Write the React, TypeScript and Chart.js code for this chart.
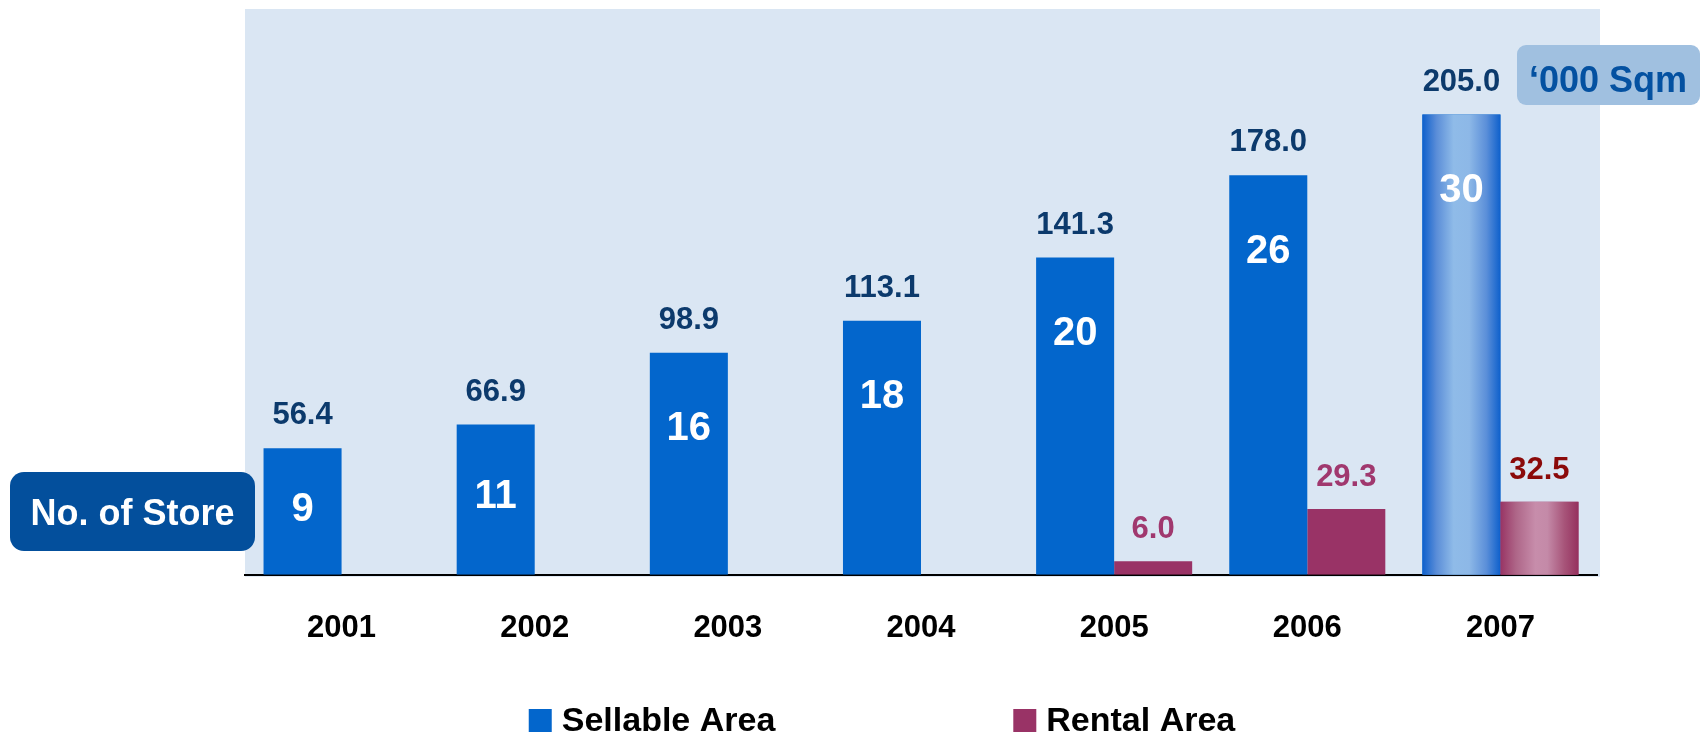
import React, { useEffect, useRef } from 'react';
import { Chart, registerables } from 'chart.js';

Chart.register(...registerables);

// ---------- data ----------
const years = ['2001', '2002', '2003', '2004', '2005', '2006', '2007'];
const sellableArea = [56.4, 66.9, 98.9, 113.1, 141.3, 178.0, 205.0];
const rentalArea = [null, null, null, null, 6.0, 29.3, 32.5];
const storeCounts = [9, 11, 16, 18, 20, 26, 30];
const seriesNames = ['Sellable Area', 'Rental Area'];
const storeBoxLabel = 'No. of Store';
const unitLabel = '\u2018000 Sqm';

// ---------- styles ----------
const W = 1701;
const H = 735;
const FONT = "'Liberation Sans', Arial, Helvetica, sans-serif";
const C = {
  sellable: '#0366CC',
  rental: '#993366',
  plotBg: '#DAE6F3',
  sellLabel: '#0C3A6C',
  rentLabel: '#A0386E',
  rentLabelLast: '#8B0A0A',
  storeBox: '#034F9C',
  unitBox: '#A0C0E0',
  unitText: '#0451A1',
};
const highlightIndex = 6;
const sellGradient: [number, string][] = [
  [0, '#0E60CC'], [0.18, '#5A8DD8'], [0.4, '#8FBBE8'], [0.6, '#8DB8E7'], [0.82, '#5B8FD9'], [1, '#0E60CC'],
];
const rentGradient: [number, string][] = [
  [0, '#983464'], [0.2, '#AE6688'], [0.45, '#C78DAB'], [0.6, '#C48AA8'], [0.82, '#A75479'], [1, '#95305E'],
];

function barBox(el: any) {
  const p = el.getProps(['x', 'y', 'base', 'width'], true);
  return { left: p.x - p.width / 2, right: p.x + p.width / 2, top: Math.min(p.y, p.base), bottom: Math.max(p.y, p.base), x: p.x, width: p.width };
}

const backgroundPlugin = {
  id: 'plotBackground',
  beforeDraw(chart: any) {
    const { ctx, chartArea } = chart;
    ctx.save();
    ctx.fillStyle = C.plotBg;
    ctx.fillRect(chartArea.left, chartArea.top, chartArea.right - chartArea.left + 3, chartArea.bottom - chartArea.top + 2);
    ctx.restore();
  },
};

const labelsPlugin = {
  id: 'barLabels',
  afterDatasetsDraw(chart: any) {
    const { ctx } = chart;
    ctx.save();
    // gradient highlight on last category
    [sellGradient, rentGradient].forEach((stops, di) => {
      const meta = chart.getDatasetMeta(di);
      const el = meta.data[highlightIndex];
      const v = chart.data.datasets[di].data[highlightIndex];
      if (!el || v == null) return;
      const b = barBox(el);
      const g = ctx.createLinearGradient(b.left, 0, b.right, 0);
      stops.forEach(([o, c]) => g.addColorStop(o, c));
      ctx.fillStyle = g;
      ctx.fillRect(b.left, b.top, b.right - b.left, b.bottom - b.top);
    });

    ctx.textAlign = 'center';
    ctx.textBaseline = 'alphabetic';
    // sellable values + store counts
    const m0 = chart.getDatasetMeta(0);
    m0.data.forEach((el: any, i: number) => {
      const v = chart.data.datasets[0].data[i];
      if (v == null) return;
      const b = barBox(el);
      ctx.fillStyle = C.sellLabel;
      ctx.font = `bold 31px ${FONT}`;
      ctx.fillText(Number(v).toFixed(1), b.x, b.top - 24);
      const h = b.bottom - b.top;
      const cy = b.top + Math.min(73, h * 0.46);
      ctx.fillStyle = '#FFFFFF';
      ctx.font = `bold 40px ${FONT}`;
      ctx.fillText(String(storeCounts[i]), b.x, cy + 14.5);
    });
    // rental values
    const m1 = chart.getDatasetMeta(1);
    m1.data.forEach((el: any, i: number) => {
      const v = chart.data.datasets[1].data[i];
      if (v == null) return;
      const b = barBox(el);
      ctx.fillStyle = i === highlightIndex ? C.rentLabelLast : C.rentLabel;
      ctx.font = `bold 31px ${FONT}`;
      ctx.fillText(Number(v).toFixed(1), b.x, b.top - 23);
    });
    ctx.restore();
  },
  afterDraw(chart: any) {
    const { ctx } = chart;
    ctx.save();
    // "No. of Store" box
    ctx.fillStyle = C.storeBox;
    ctx.beginPath();
    ctx.roundRect(10, 472, 245, 79, 14);
    ctx.fill();
    ctx.fillStyle = '#FFFFFF';
    ctx.font = `bold 36px ${FONT}`;
    ctx.textAlign = 'center';
    ctx.textBaseline = 'alphabetic';
    ctx.fillText(storeBoxLabel, 132.5, 525);
    // unit box
    ctx.fillStyle = C.unitBox;
    ctx.beginPath();
    ctx.roundRect(1517, 45, 183, 60, 9);
    ctx.fill();
    ctx.fillStyle = C.unitText;
    ctx.font = `bold 36px ${FONT}`;
    ctx.fillText(unitLabel, 1608, 92);

    // legend
    ctx.font = `bold 34px ${FONT}`;
    ctx.textAlign = 'left';
    const box = 23, gap = 10, spacing = 238;
    const items = chart.data.datasets.map((ds: any) => ({ label: ds.label, color: ds.backgroundColor, w: ctx.measureText(ds.label).width }));
    const total = items.reduce((s: number, it: any) => s + box + gap + it.w, 0) + spacing * (items.length - 1);
    let x = 882 - total / 2;
    items.forEach((it: any) => {
      ctx.fillStyle = it.color;
      ctx.fillRect(x, 709, box, box);
      ctx.fillStyle = '#000000';
      ctx.fillText(it.label, x + box + gap, 731);
      x += box + gap + it.w + spacing;
    });
    ctx.restore();
  },
};

export default function App() {
  const ref = useRef<HTMLCanvasElement | null>(null);
  useEffect(() => {
    if (!ref.current) return;
    const chart = new Chart(ref.current, {
      type: 'bar',
      data: {
        labels: years,
        datasets: [
          { label: seriesNames[0], data: sellableArea, backgroundColor: C.sellable, categoryPercentage: 0.808, barPercentage: 1 },
          { label: seriesNames[1], data: rentalArea, backgroundColor: C.rental, categoryPercentage: 0.808, barPercentage: 1 },
        ],
      },
      options: {
        animation: false,
        responsive: false,
        devicePixelRatio: 1,
        layout: { padding: { left: 245, right: 104, top: 9, bottom: 53 } },
        plugins: { legend: { display: false }, tooltip: { enabled: false } },
        scales: {
          x: {
            offset: true,
            grid: { display: false, drawTicks: false },
            border: { display: true, color: '#000000', width: 2 },
            ticks: { color: '#000000', padding: 35, font: { family: FONT, size: 31, weight: 'bold' } },
          },
          y: { display: false, min: 0, max: 252 },
        },
      },
      plugins: [backgroundPlugin, labelsPlugin],
    });
    return () => chart.destroy();
  }, []);
  return (
    <div style={{ position: 'absolute', left: 0, top: 0, width: W, height: H, background: '#FFFFFF' }}>
      <canvas ref={ref} width={W} height={H} style={{ display: 'block' }} />
    </div>
  );
}
